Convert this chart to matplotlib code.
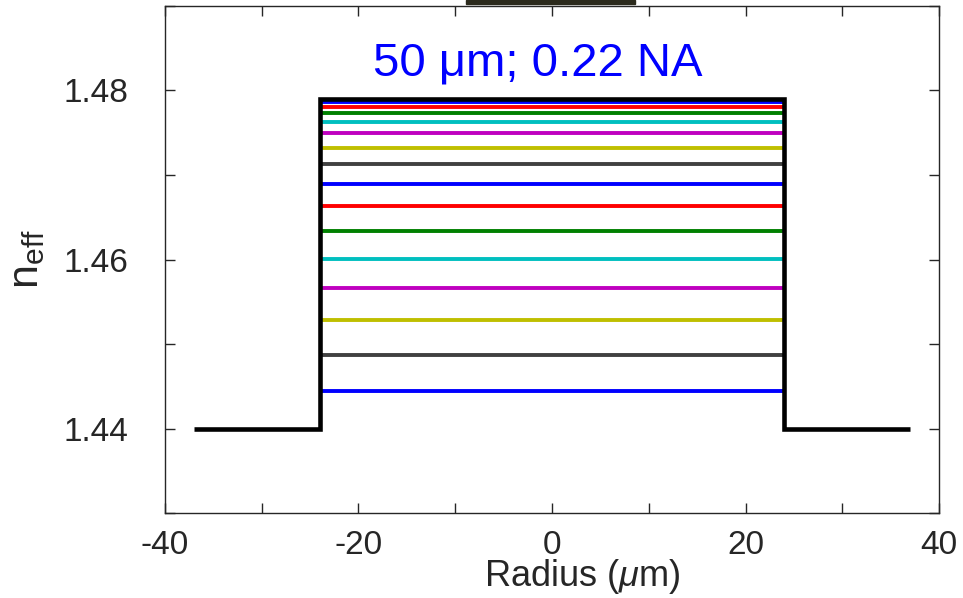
import matplotlib
matplotlib.use("Agg")
import matplotlib.pyplot as plt
from matplotlib.patches import Rectangle

# Step-index fibre: refractive index profile and mode effective indices
profile_radius = [-37, -24, -24, 24, 24, 37]
profile_index = [1.44, 1.44, 1.479, 1.479, 1.44, 1.44]
core_radius = 24

mode_neff = [1.47861, 1.47810, 1.47735, 1.47628, 1.47493, 1.47323, 1.47125,
             1.46896, 1.46635, 1.46338, 1.46006, 1.45668, 1.45284, 1.44872,
             1.44448]
mode_colors = ["#0000ff", "#ff0000", "#008000", "#00bfbf", "#bf00bf",
               "#bfbf00", "#404040"]

x_ticks = [-40, -30, -20, -10, 0, 10, 20, 30, 40]
x_tick_labels = ["-40", "", "-20", "", "0", "", "20", "", "40"]
y_ticks = [1.43, 1.44, 1.45, 1.46, 1.47, 1.48, 1.49]
y_tick_labels = ["", "1.44", "", "1.46", "", "1.48", ""]

title_text = "50 \u03bcm; 0.22 NA"

plt.rcParams["font.family"] = ["Liberation Sans", "DejaVu Sans"]
plt.rcParams["mathtext.fontset"] = "custom"
plt.rcParams["mathtext.rm"] = "Liberation Sans"
plt.rcParams["mathtext.it"] = "Liberation Sans:italic"

fig = plt.figure(figsize=(9.63, 5.98), dpi=100)
ax = fig.add_axes([0.1713, 0.1421, 0.8038, 0.8479])

axis_grey = (0.15, 0.15, 0.15)

for i, n in enumerate(mode_neff):
    ax.plot([-core_radius, core_radius], [n, n],
            color=mode_colors[i % len(mode_colors)], lw=2.8,
            solid_capstyle="butt", zorder=2)

ax.plot(profile_radius, profile_index, color="black", lw=3.3,
        solid_capstyle="butt", solid_joinstyle="miter", zorder=3)

ax.text(-1.5, 1.4832, title_text, color="#0000ff", fontsize=34,
        ha="center", va="center")

ax.set_xlim(-40, 40)
ax.set_ylim(1.43, 1.49)
ax.set_xticks(x_ticks)
ax.set_xticklabels(x_tick_labels)
ax.set_yticks(y_ticks)
ax.set_yticklabels(y_tick_labels)

ax.tick_params(direction="in", top=True, right=True, length=7, width=1,
               colors=axis_grey, labelsize=24)
ax.tick_params(axis="y", pad=26)
ax.tick_params(axis="x", pad=12)
for sp in ax.spines.values():
    sp.set_color(axis_grey)
    sp.set_linewidth(1)

ax.set_xlabel(r"Radius ($\mu$m)", fontsize=26, color=axis_grey, labelpad=-3)
ax.xaxis.label.set_x(0.539)
ax.set_ylabel(r"$\mathregular{n_{eff}}$", fontsize=31, color=axis_grey)
ax.yaxis.set_label_coords(-0.152, 0.5)

# dark band at the top edge of the figure
fig.patches.append(Rectangle((466 / 963, 1 - 4 / 598), 169 / 963, 4 / 598,
                             transform=fig.transFigure, color="#2b2a1c",
                             zorder=0))

fig.savefig("out.png", dpi=100)
